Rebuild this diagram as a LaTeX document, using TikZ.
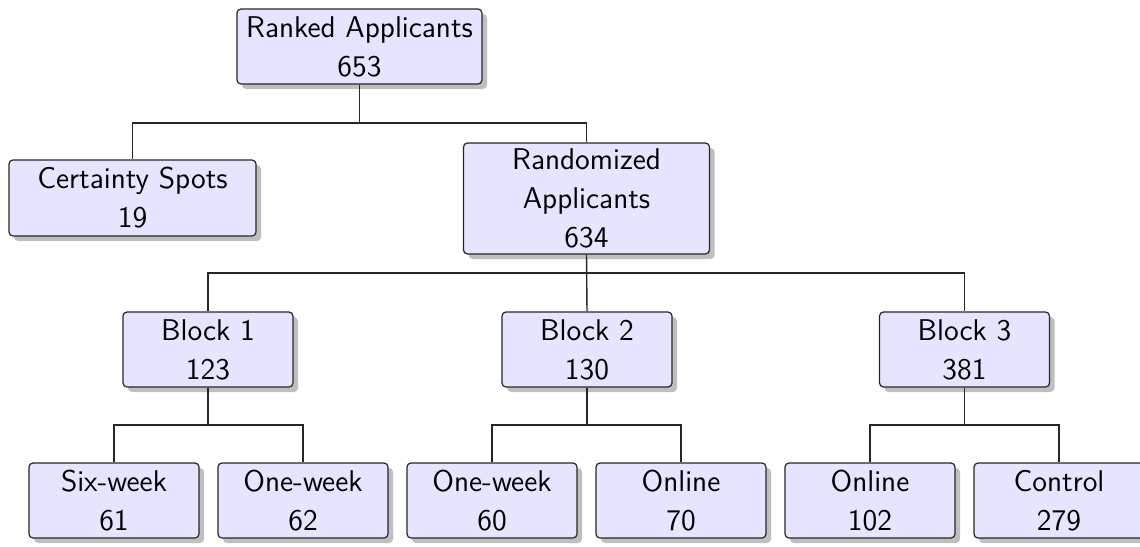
\documentclass[tikz,border=0pt]{standalone}
\usetikzlibrary{shadows}
\begin{document}
\begin{tikzpicture}[x=0.5pt,y=-0.5pt,
  box/.style={draw=black!85, fill=blue!10, rounded corners=2pt, align=center,
    inner sep=0pt, minimum width=85pt, minimum height=37.5pt,
    font=\fontsize{15}{19.5}\selectfont\sffamily, line width=0.6pt,
    drop shadow={shadow xshift=2.5pt, shadow yshift=-2.5pt, fill=black!50, opacity=0.5}},
  conn/.style={draw=black!85, line width=0.7pt}]
\useasboundingbox (0,0) rectangle (1140,546);
\coordinate (h1) at (0,123);
\coordinate (h2) at (0,273);
\coordinate (h3) at (0,425);
\node[box, minimum width=122.5pt] (ranked) at (359.5,46.5) {Ranked Applicants\\653};
\node[box, minimum width=123.5pt, minimum height=38pt] (cert) at (132.5,198) {Certainty Spots\\19};
\node[box, minimum width=123pt, minimum height=55.5pt] (rand) at (586.5,198.5) {Randomized\\Applicants\\634};
\node[box] (b1) at (208,349.5) {Block 1\\123};
\node[box] (b2) at (587,349.5) {Block 2\\130};
\node[box] (b3) at (964.5,349.5) {Block 3\\381};
\node[box] (l1) at (114,500.5) {Six-week\\61};
\node[box] (l2) at (303,500.5) {One-week\\62};
\node[box] (l3) at (492,500.5) {One-week\\60};
\node[box] (l4) at (681,500.5) {Online\\70};
\node[box] (l5) at (870,500.5) {Online\\102};
\node[box] (l6) at (1059,500.5) {Control\\279};
\draw[conn] (ranked.south) |- (cert.north |- h1) -- (cert.north);
\draw[conn] (ranked.south) |- (rand.north |- h1) -- (rand.north);
\draw[conn] (rand.south) |- (b1.north |- h2) -- (b1.north);
\draw[conn] (rand.south) -- (b2.north);
\draw[conn] (rand.south) |- (b3.north |- h2) -- (b3.north);
\draw[conn] (b1.south) |- (l1.north |- h3) -- (l1.north);
\draw[conn] (b1.south) |- (l2.north |- h3) -- (l2.north);
\draw[conn] (b2.south) |- (l3.north |- h3) -- (l3.north);
\draw[conn] (b2.south) |- (l4.north |- h3) -- (l4.north);
\draw[conn] (b3.south) |- (l5.north |- h3) -- (l5.north);
\draw[conn] (b3.south) |- (l6.north |- h3) -- (l6.north);
\end{tikzpicture}
\end{document}
